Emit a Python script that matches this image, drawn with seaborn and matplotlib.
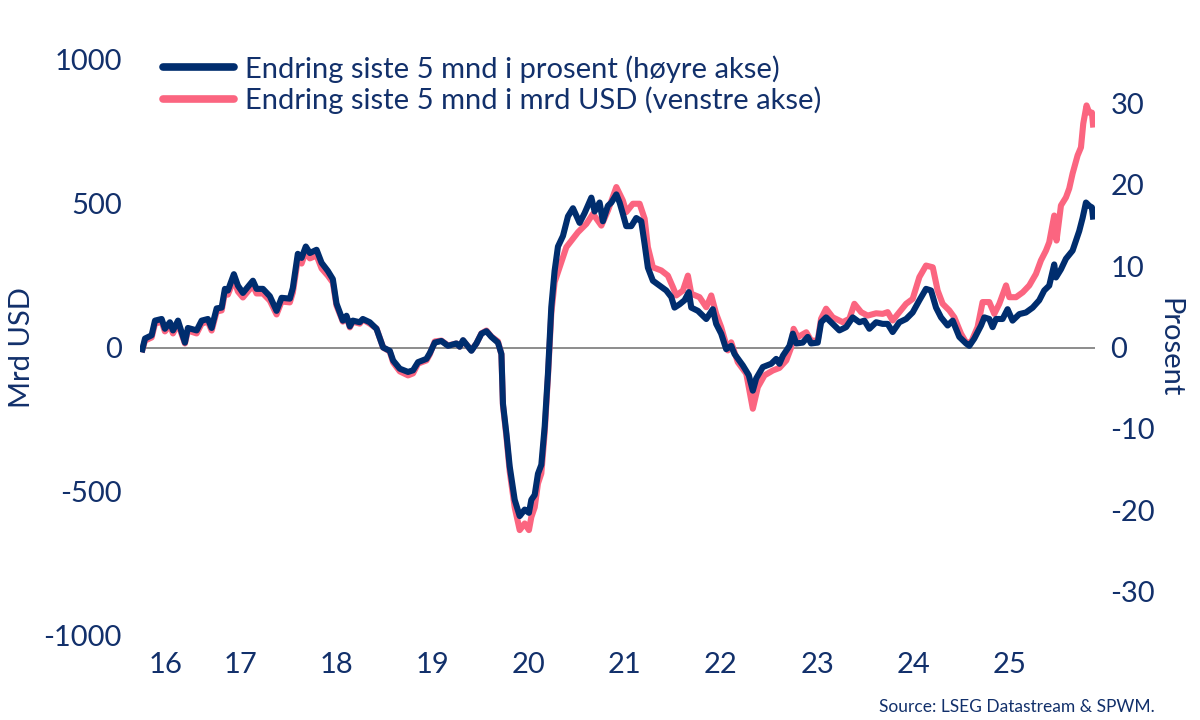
import matplotlib
matplotlib.use("Agg")
import matplotlib.pyplot as plt
from matplotlib.lines import Line2D
import seaborn as sns
import pandas as pd

# ---------------- data ----------------
pct_year = [2016.477, 2016.512, 2016.581, 2016.616, 2016.685, 2016.719, 2016.771, 2016.803, 2016.855, 2016.927,
            2016.958, 2017.049, 2017.101, 2017.166, 2017.205, 2017.257, 2017.309, 2017.343, 2017.374, 2017.436,
            2017.478, 2017.530, 2017.634, 2017.672, 2017.738, 2017.810, 2017.880, 2017.932, 2018.018, 2018.049,
            2018.101, 2018.140, 2018.184, 2018.226, 2018.296, 2018.348, 2018.413, 2018.465, 2018.503, 2018.569,
            2018.607, 2018.642, 2018.673, 2018.745, 2018.777, 2018.849, 2018.919, 2018.988, 2019.057, 2019.092,
            2019.161, 2019.247, 2019.299, 2019.351, 2019.438, 2019.473, 2019.525, 2019.594, 2019.663, 2019.750,
            2019.784, 2019.819, 2019.906, 2019.958, 2020.010, 2020.062, 2020.114, 2020.182, 2020.218, 2020.234,
            2020.270, 2020.304, 2020.356, 2020.408, 2020.460, 2020.504, 2020.529, 2020.564, 2020.598, 2020.633,
            2020.668, 2020.702, 2020.737, 2020.771, 2020.806, 2020.858, 2020.910, 2020.962, 2021.031, 2021.083,
            2021.153, 2021.187, 2021.239, 2021.273, 2021.325, 2021.361, 2021.413, 2021.447, 2021.481, 2021.516,
            2021.568, 2021.620, 2021.672, 2021.707, 2021.741, 2021.793, 2021.862, 2021.932, 2021.984, 2022.018,
            2022.070, 2022.122, 2022.167, 2022.192, 2022.261, 2022.348, 2022.416, 2022.451, 2022.503, 2022.555,
            2022.607, 2022.642, 2022.728, 2022.790, 2022.832, 2022.867, 2022.936, 2023.023, 2023.075, 2023.109,
            2023.145, 2023.213, 2023.248, 2023.283, 2023.351, 2023.403, 2023.438, 2023.507, 2023.542, 2023.594,
            2023.663, 2023.732, 2023.802, 2023.871, 2023.940, 2023.992, 2024.044, 2024.114, 2024.182, 2024.234,
            2024.286, 2024.356, 2024.426, 2024.494, 2024.564, 2024.633, 2024.685, 2024.737, 2024.789, 2024.858,
            2024.910, 2024.979, 2025.049, 2025.083, 2025.135, 2025.205, 2025.239, 2025.291, 2025.325, 2025.361,
            2025.429, 2025.481, 2025.533, 2025.603, 2025.672, 2025.742, 2025.810, 2025.862, 2025.914, 2025.966,
            2025.984, 2026.036, 2026.088, 2026.157, 2026.226, 2026.261, 2026.296, 2026.330, 2026.358, 2026.372]
pct_change = [-0.6, 1.1, 1.5, 3.3, 3.5, 2.3, 3.1, 2.1, 3.3, 0.6,
              2.4, 2.1, 3.3, 3.5, 2.4, 4.8, 4.9, 7.2, 7.0, 9.0,
              7.6, 6.7, 8.2, 7.2, 7.2, 6.3, 4.5, 6.1, 6.0, 7.3,
              11.5, 11.0, 12.4, 11.6, 12.0, 10.4, 9.4, 8.4, 5.4, 3.3,
              3.9, 2.6, 3.3, 3.1, 3.5, 3.1, 2.3, 0.0, -0.4, -1.6,
              -2.6, -3.0, -2.8, -1.8, -1.4, -0.7, 0.6, 0.8, 0.2, 0.5,
              0.1, 0.9, -0.4, 0.5, 1.7, 2.0, 1.3, 0.6, -0.8, -6.9,
              -10.6, -14.6, -18.7, -20.7, -19.9, -20.3, -18.7, -18.1, -15.5, -14.4,
              -9.7, -3.2, 5.0, 9.4, 12.4, 13.7, 16.1, 17.1, 15.3, 16.5,
              18.4, 16.7, 17.8, 15.5, 17.4, 17.8, 18.8, 17.8, 16.4, 14.9,
              14.9, 15.9, 15.5, 12.7, 9.8, 8.2, 7.6, 7.0, 6.2, 4.9,
              5.3, 5.8, 6.8, 4.9, 4.5, 3.5, 4.7, 2.9, 1.7, -0.2,
              0.2, -0.8, -2.2, -3.4, -5.3, -3.8, -2.4, -2.0, -1.4, -2.0,
              -1.0, 0.2, 1.7, 0.5, 0.6, 1.3, 0.5, 0.6, 3.1, 3.7,
              2.9, 2.1, 2.5, 3.7, 3.1, 3.3, 2.3, 3.1, 2.9, 2.9,
              1.9, 3.1, 3.5, 4.3, 5.8, 7.2, 7.0, 4.9, 3.7, 2.7,
              3.3, 1.3, 0.5, 0.2, 1.1, 2.7, 3.7, 3.5, 2.5, 3.5,
              3.5, 4.7, 3.3, 4.1, 4.3, 4.9, 5.8, 7.0, 7.6, 10.2,
              8.6, 9.6, 10.9, 11.9, 14.3, 15.9, 17.8, 17.4, 17.2, 15.7]

usd_year = [2016.477, 2016.512, 2016.581, 2016.616, 2016.685, 2016.719, 2016.771, 2016.803, 2016.855, 2016.927,
            2016.958, 2017.049, 2017.101, 2017.166, 2017.205, 2017.257, 2017.309, 2017.343, 2017.374, 2017.436,
            2017.478, 2017.530, 2017.634, 2017.672, 2017.738, 2017.810, 2017.880, 2017.932, 2018.018, 2018.049,
            2018.101, 2018.140, 2018.184, 2018.226, 2018.296, 2018.348, 2018.413, 2018.465, 2018.503, 2018.569,
            2018.607, 2018.642, 2018.673, 2018.745, 2018.777, 2018.849, 2018.919, 2018.988, 2019.057, 2019.092,
            2019.161, 2019.247, 2019.299, 2019.351, 2019.438, 2019.473, 2019.525, 2019.594, 2019.663, 2019.750,
            2019.784, 2019.819, 2019.906, 2019.958, 2020.010, 2020.062, 2020.114, 2020.182, 2020.218, 2020.234,
            2020.270, 2020.304, 2020.356, 2020.408, 2020.460, 2020.504, 2020.529, 2020.564, 2020.598, 2020.633,
            2020.668, 2020.702, 2020.737, 2020.771, 2020.893, 2021.014, 2021.101, 2021.170, 2021.257, 2021.325,
            2021.413, 2021.481, 2021.516, 2021.585, 2021.655, 2021.707, 2021.741, 2021.793, 2021.880, 2021.949,
            2022.001, 2022.036, 2022.105, 2022.157, 2022.192, 2022.278, 2022.348, 2022.400, 2022.451, 2022.503,
            2022.572, 2022.607, 2022.676, 2022.764, 2022.832, 2022.884, 2022.953, 2023.040, 2023.109, 2023.180,
            2023.232, 2023.256, 2023.300, 2023.388, 2023.438, 2023.507, 2023.542, 2023.594, 2023.663, 2023.767,
            2023.836, 2023.888, 2023.958, 2024.026, 2024.114, 2024.182, 2024.234, 2024.286, 2024.356, 2024.426,
            2024.494, 2024.564, 2024.633, 2024.703, 2024.754, 2024.806, 2024.875, 2024.927, 2024.997, 2025.049,
            2025.101, 2025.169, 2025.221, 2025.291, 2025.343, 2025.395, 2025.465, 2025.499, 2025.569, 2025.639,
            2025.707, 2025.776, 2025.828, 2025.880, 2025.914, 2025.966, 2025.990, 2026.036, 2026.088, 2026.122,
            2026.157, 2026.209, 2026.244, 2026.268, 2026.302, 2026.330, 2026.358, 2026.372]
usd_change = [-17, 24, 35, 83, 90, 56, 77, 49, 83, 14,
              59, 49, 83, 90, 59, 125, 129, 191, 184, 237,
              195, 174, 216, 188, 188, 163, 115, 160, 157, 191,
              306, 292, 334, 310, 320, 275, 250, 226, 146, 90,
              108, 70, 90, 83, 97, 83, 66, 0, -14, -52,
              -83, -97, -90, -56, -45, -24, 21, 24, 7, 14,
              3, 24, -10, 14, 49, 59, 38, 21, -24, -202,
              -310, -431, -556, -635, -612, -635, -590, -556, -473, -438,
              -296, -101, 120, 227, 349, 401, 430, 465, 424, 476,
              558, 511, 471, 500, 500, 448, 349, 279, 268, 250,
              210, 181, 198, 250, 187, 175, 140, 181, 117, 71,
              -10, 18, -51, -91, -213, -138, -97, -80, -71, -45,
              1, 65, 36, 53, 24, 24, 100, 135, 105, 88,
              100, 152, 123, 111, 119, 117, 123, 94, 123, 152,
              169, 245, 285, 279, 198, 152, 129, 105, 48, 18,
              18, 71, 158, 158, 117, 152, 216, 175, 175, 192,
              216, 256, 303, 337, 366, 459, 372, 494, 522, 553,
              605, 668, 696, 779, 842, 817, 817, 765]

year_tick_pos = [2016.73, 2017.5, 2018.5, 2019.5, 2020.5, 2021.5, 2022.5, 2023.5, 2024.5, 2025.5]
year_tick_labels = ["16", "17", "18", "19", "20", "21", "22", "23", "24", "25"]
left_ticks = [-1000, -500, 0, 500, 1000]
right_ticks = [-30, -20, -10, 0, 10, 20, 30]

label_pct = "Endring siste 5 mnd i prosent (høyre akse)"
label_usd = "Endring siste 5 mnd i mrd USD (venstre akse)"

# ---------------- styling ----------------
NAVY = "#002d6e"
PINK = "#fb6580"
TEXT = "#12306b"
FS = 21

sns.set_theme(style="white")
plt.rcParams["font.family"] = ["Lato", "DejaVu Sans"]

fig = plt.figure(figsize=(12, 7.2), dpi=100)
ax = fig.add_axes([140 / 1200, 1 - 635 / 720, 955 / 1200, 575 / 720])
ax2 = ax.twinx()

df_usd = pd.DataFrame({"year": usd_year, "value": usd_change})
df_pct = pd.DataFrame({"year": pct_year, "value": pct_change})

ax.axhline(0, color="#6e6e6e", lw=1.1, zorder=0)
sns.lineplot(data=df_usd, x="year", y="value", ax=ax, color=PINK, lw=4.4,
             legend=False, solid_joinstyle="round", solid_capstyle="butt")
sns.lineplot(data=df_pct, x="year", y="value", ax=ax2, color=NAVY, lw=4.4,
             legend=False, solid_joinstyle="round", solid_capstyle="butt")

ax.set_xlim(2016.46, 2026.39)
ax.set_ylim(-1000, 1000)
ax2.set_ylim(-35.3, 35.3)

for a in (ax, ax2):
    for s in a.spines.values():
        s.set_visible(False)
    a.grid(False)

ax.set_xticks(year_tick_pos)
ax.set_xticklabels(year_tick_labels)
ax.set_yticks(left_ticks)
ax.set_yticklabels([str(v) for v in left_ticks])
ax2.set_yticks(right_ticks)
ax2.set_yticklabels([str(v) for v in right_ticks])

ax.tick_params(axis="x", length=0, pad=12, labelsize=FS, labelcolor=TEXT)
ax.tick_params(axis="y", length=0, pad=13, labelsize=FS, labelcolor=TEXT)
ax2.tick_params(axis="y", length=0, pad=11, labelsize=FS, labelcolor=TEXT)

ax.set_xlabel("")
ax.set_ylabel("Mrd USD", fontsize=FS, color=TEXT, labelpad=6)
ax2.set_ylabel("Prosent", fontsize=FS, color=TEXT, rotation=270, labelpad=20)

handles = [Line2D([], [], color=NAVY, lw=5.5), Line2D([], [], color=PINK, lw=5.5)]
leg = fig.legend(handles, [label_pct, label_usd], loc="upper left",
                 bbox_to_anchor=(163 / 1200, 1 - 55 / 720), frameon=False,
                 fontsize=FS, handlelength=2.45, handletextpad=0.35, labelspacing=0.12,
                 borderaxespad=0, borderpad=0)
for t in leg.get_texts():
    t.set_color(TEXT)

fig.text(1155 / 1200, 1 - 707 / 720, "Source: LSEG Datastream & SPWM.", ha="right", va="center",
         fontsize=12.5, color=TEXT)

fig.savefig("out.png", dpi=100)
